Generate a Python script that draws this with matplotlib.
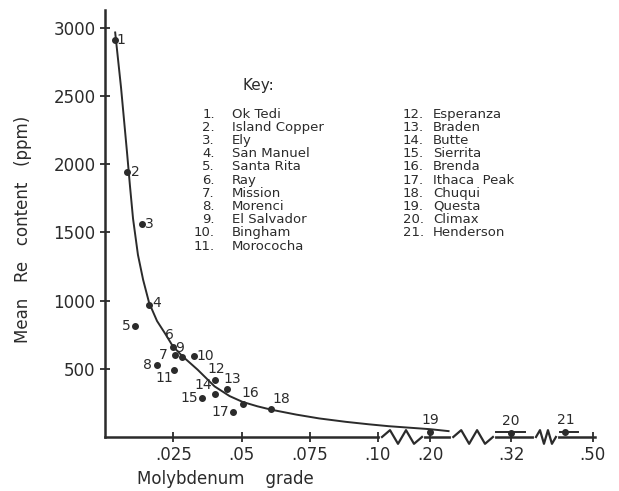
import numpy as np
import matplotlib.pyplot as plt

# mine data
mine_no = np.arange(1, 22)
mine_names = ['Ok Tedi', 'Island Copper', 'Ely', 'San Manuel', 'Santa Rita',
              'Ray', 'Mission', 'Morenci', 'El Salvador', 'Bingham',
              'Morococha', 'Esperanza', 'Braden', 'Butte', 'Sierrita',
              'Brenda', 'Ithaca  Peak', 'Chuqui', 'Questa', 'Climax',
              'Henderson']
mo_grade = [0.0036, 0.0080, 0.0134, 0.0160, 0.0110, 0.0248, 0.0255, 0.0190,
            0.0281, 0.0325, 0.0252, 0.0401, 0.0445, 0.0401, 0.0354, 0.0504,
            0.0467, 0.0609, 0.20, 0.32, 0.44]
re_ppm = [2910, 1940, 1560, 970, 815, 660, 600, 530, 586, 593, 493, 421, 350,
          314, 286, 243, 186, 207, 40, 30, 40]

# hand-fitted curve as drawn
curve_x = [0.00365, 0.0058, 0.0080, 0.0091, 0.0102, 0.0120, 0.0139, 0.0161,
           0.0190, 0.0219, 0.0248, 0.0281, 0.0339, 0.0401, 0.0456, 0.0504,
           0.0558, 0.0609, 0.0701, 0.0785, 0.0883, 0.0967, 0.121, 0.20, 0.227]
curve_y = [2964, 2560, 2084, 1834, 1600, 1335, 1152, 983, 850, 760, 665, 596,
           493, 371, 300, 257, 225, 200, 164, 136, 111, 93, 79, 57, 43]
# short strokes of the curve at Climax and Henderson
stroke_x = [(0.298, 0.351), (0.428, 0.467)]
stroke_y = [(34, 34), (34, 34)]

# label offsets (pixels) for the numbers beside the points
lab_dx = [6, 8, 8, 8, -9, -3, -11, -10, -2, 11, -10, 2, 6, -11, -12, 8, -12, 10, 0, 0, 0]
lab_dy = [0, 0, 0, 2, 0, 12, 0, 0, 9, 0, -8, 11, 10, 9, 0, 11, 0, 10, 12, 12, 12]

xticks = [0.025, 0.05, 0.075, 0.10, 0.20, 0.32, 0.50]
xtick_labels = ['.025', '.05', '.075', '.10', '.20', '.32', '.50']
yticks = [500, 1000, 1500, 2000, 2500, 3000]
breaks_at = [(0.108, 0.184), (0.234, 0.293), (0.375, 0.419)]

# broken x axis: piecewise linear scale
brk = [0, 0.10, 0.20, 0.32, 0.50, 0.60]
pos = [0, 0.10, 0.1193, 0.1489, 0.1788, 0.1954]

def fwd(x):
    return np.interp(x, brk, pos)

def inv(x):
    return np.interp(x, pos, brk)

ink = '#2b2b2b'
plt.rcParams['font.family'] = 'DejaVu Sans'

fig = plt.figure(figsize=(6.19, 4.91), dpi=100)
ax = fig.add_axes([0.170, 0.110, 0.791, 0.870])
ax.set_xscale('function', functions=(fwd, inv))
ax.set_xlim(0, 0.505)
ax.set_ylim(0, 3130)

ax.plot(curve_x, curve_y, color=ink, lw=1.4)
for sx, sy in zip(stroke_x, stroke_y):
    ax.plot(sx, sy, color=ink, lw=1.4)
ax.plot(mo_grade, re_ppm, 'o', color=ink, ms=4)
for n, x, y, dx, dy in zip(mine_no, mo_grade, re_ppm, lab_dx, lab_dy):
    ax.annotate(str(n), (x, y), xytext=(dx, dy), textcoords='offset pixels',
                ha='center', va='center', fontsize=10, color=ink)

# zigzag axis breaks
for a, b in breaks_at:
    xs = np.linspace(a, b, 6)
    ys = [0, 0.016, -0.016, 0.016, -0.016, 0]
    ax.plot([a, b], [0, 0], color='white', lw=3,
            transform=ax.get_xaxis_transform(), clip_on=False, zorder=3)
    ax.plot(xs, ys, color=ink, lw=1.6, transform=ax.get_xaxis_transform(),
            clip_on=False, zorder=4)

ax.set_xticks(xticks)
ax.set_xticklabels(xtick_labels)
ax.set_yticks(yticks)
ax.tick_params(direction='inout', length=7, width=1.3, colors=ink,
               labelsize=12)
ax.tick_params(axis='x', pad=3)
for s in ['top', 'right']:
    ax.spines[s].set_visible(False)
for s in ['left', 'bottom']:
    ax.spines[s].set_linewidth(1.8)
    ax.spines[s].set_color(ink)

ax.set_xlabel('Molybdenum    grade', fontsize=12, color=ink)
ax.xaxis.set_label_coords(0.245, -0.078)
ax.set_ylabel('Mean   Re   content   (ppm)', fontsize=12, color=ink)
ax.yaxis.set_label_coords(-0.149, 0.485)

# key
ax.text(0.312, 0.824, 'Key:', transform=ax.transAxes, ha='center',
        va='center', fontsize=11, color=ink)
row0 = 0.756
step = 0.0309
for i, name in enumerate(mine_names):
    if i < 11:
        col_n, col_t, r = 0.224, 0.259, i
    else:
        col_n, col_t, r = 0.651, 0.669, i - 11
    yy = row0 - r * step
    ax.text(col_n, yy, f'{mine_no[i]}.', transform=ax.transAxes, ha='right',
            va='center', fontsize=9.5, color=ink)
    ax.text(col_t, yy, name, transform=ax.transAxes, ha='left', va='center',
            fontsize=9.5, color=ink)

fig.savefig('out.png', dpi=100)
